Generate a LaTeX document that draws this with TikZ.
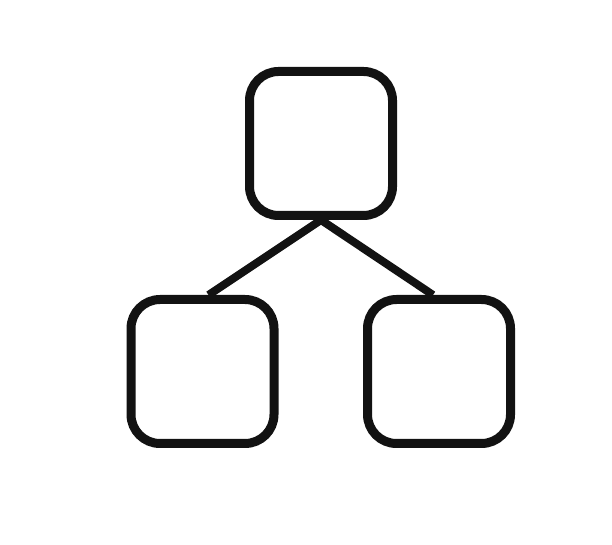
\documentclass[tikz,border=0pt]{standalone}
\begin{document}
\begin{tikzpicture}[x=1pt,y=1pt,
  box/.style={draw=black!93, line width=9pt, rounded corners=29pt, minimum width=143pt, minimum height=144pt, inner sep=0pt, fill=white},
  link/.style={draw=black!93, line width=8pt}]
\useasboundingbox (0,0) rectangle (612,545);
\node[box] (top) at (321,401.5) {};
\node[box] (left) at (202.5,173.5) {};
\node[box] (right) at (439,173.5) {};
\draw[link] ([xshift=6pt]left.north) -- (top.south) -- ([xshift=-6pt]right.north);
\end{tikzpicture}
\end{document}
